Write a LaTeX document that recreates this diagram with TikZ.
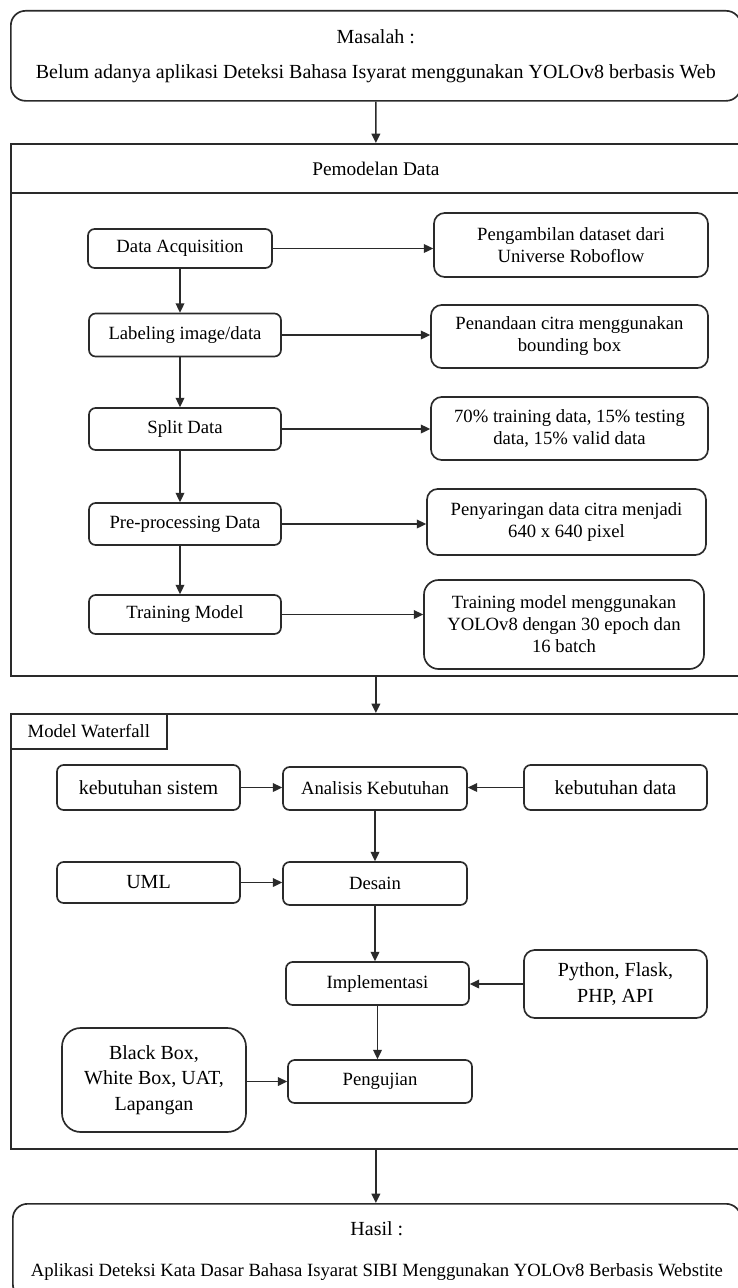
\documentclass[tikz,border=0pt]{standalone}
\usepackage{fontspec}
\setmainfont{Liberation Serif}
\usetikzlibrary{arrows.meta}
\definecolor{linec}{HTML}{2A2A2A}
\begin{document}
\begin{tikzpicture}[x=0.75pt,y=-0.75pt,
  sz/.style 2 args={minimum width=#1*0.75pt, minimum height=#2*0.75pt},
  box/.style={draw=linec, line width=1.25pt, rounded corners=5pt, inner sep=0pt, align=center, font=\fontsize{14}{16.5}\selectfont},
  bigbox/.style={box, rounded corners=8pt},
  bigfont/.style={font=\fontsize{15}{19}\selectfont},
  frame/.style={draw=linec, line width=1.35pt, sharp corners, inner sep=0pt, align=center, font=\fontsize{14.5}{18}\selectfont},
  arr/.style={draw=linec, line width=1.2pt, -{Triangle[length=7pt,width=6.5pt]}}
]
\useasboundingbox (0,0) rectangle (738,1288);
\clip (0,0) rectangle (738,1288);

% Top problem box
\node[box, rounded corners=11pt, sz={730}{90}, anchor=north west, font=\fontsize{15}{18}\selectfont] (mas) at (10,10)
  {Masalah :\\[8.25pt] Belum adanya aplikasi Deteksi Bahasa Isyarat menggunakan YOLOv8 berbasis Web};

% Pemodelan Data frame
\node[frame, sz={730}{532}, anchor=north west] (pem) at (10,143) {};
\node[frame, sz={730}{49}, anchor=north west] (pemh) at (10,143) {Pemodelan Data};

\node[box, sz={184}{39}] (da) at (180,248.5) {Data Acquisition};
\node[box, sz={192}{43}] (lab) at (185,335) {Labeling image/data};
\node[box, sz={192}{42}] (split) at (185,429) {Split Data};
\node[box, sz={192}{42}] (pre) at (185,524) {Pre-processing Data};
\node[box, sz={192}{39}] (train) at (185,614.5) {Training Model};

\node[bigbox, sz={274}{64}] (peng) at (571,245) {Pengambilan dataset dari\\Universe Roboflow};
\node[bigbox, sz={277}{63}] (pen) at (569.5,336.5) {Penandaan citra menggunakan\\bounding box};
\node[bigbox, sz={277}{63}] (sev) at (569.5,428.5) {70\% training data, 15\% testing\\data, 15\% valid data};
\node[bigbox, sz={279}{66}] (peny) at (566.5,522) {Penyaringan data citra menjadi\\640 x 640 pixel};
\node[bigbox, rounded corners=11pt, sz={280}{89}] (trr) at (564,624.5) {Training model menggunakan\\YOLOv8 dengan 30 epoch dan\\16 batch};

\draw[arr] (da.east) -- (da.east -| peng.west);
\draw[arr] (lab.east) -- (lab.east -| pen.west);
\draw[arr] (split.east) -- (split.east -| sev.west);
\draw[arr] (pre.east) -- (pre.east -| peny.west);
\draw[arr] (train.east) -- (train.east -| trr.west);

\draw[arr] (da.south) -- (da.south |- lab.north);
\draw[arr] (lab.south -| da.south) -- (da.south |- split.north);
\draw[arr] (split.south -| da.south) -- (da.south |- pre.north);
\draw[arr] (pre.south -| da.south) -- (da.south |- train.north);

% Waterfall frame
\node[frame, sz={730}{435}, anchor=north west] (wf) at (10,713) {};
\node[frame, sz={156}{35}, anchor=north west, font=\fontsize{14}{16.5}\selectfont] (wfh) at (10,713) {Model Waterfall};

\draw[arr] (mas.south) -- (pemh.north);
\draw[arr] (pem.south) -- (wf.north);

\node[box, bigfont, sz={183}{45}] (ks) at (148.5,787.5) {kebutuhan sistem};
\node[box, sz={184}{43}] (ak) at (375,788.5) {Analisis Kebutuhan};
\node[box, bigfont, sz={183}{45}] (kd) at (615.5,787.5) {kebutuhan data};
\node[box, bigfont, sz={183}{41}] (uml) at (148.5,882.5) {UML};
\node[box, sz={184}{43}] (des) at (375,883.5) {Desain};
\node[box, sz={183}{43}] (impl) at (377.5,983.5) {Implementasi};
\node[bigbox, bigfont, sz={183}{68}] (py) at (615.5,984) {Python, Flask,\\PHP, API};
\node[box, sz={184}{43}] (pgj) at (380,1081.5) {Pengujian};
\node[box, bigfont, rounded corners=14pt, sz={184}{104}] (bb) at (154,1080) {Black Box,\\White Box, UAT,\\Lapangan};

\draw[arr] (ks.east) -- (ks.east -| ak.west);
\draw[arr] (kd.west) -- (kd.west -| ak.east);
\draw[arr] (ak.south) -- (des.north);
\draw[arr] (uml.east) -- (uml.east -| des.west);
\draw[arr] (des.south) -- (des.south |- impl.north);
\draw[arr] (py.west) -- (py.west -| impl.east);
\draw[arr] (impl.south) -- (impl.south |- pgj.north);
\draw[arr] (bb.east |- pgj.west) -- (pgj.west);

% Result box
\node[box, rounded corners=11pt, sz={728}{95}, anchor=north west, font=\fontsize{15}{18}\selectfont] (has) at (12,1203)
  {Hasil :\\[12.75pt] {\fontsize{14}{18}\selectfont Aplikasi Deteksi Kata Dasar Bahasa Isyarat SIBI Menggunakan YOLOv8 Berbasis Webstite}};

\draw[arr] (wf.south) -- (wf.south |- has.north);
\end{tikzpicture}
\end{document}
